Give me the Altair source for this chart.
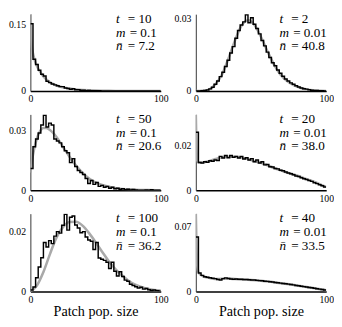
import altair as alt
import pandas as pd

BIN = 2  # histogram bin width (patch population size units)

# ---------------- histogram values (density per bin, 50 bins of width 2) ----------------
p1_hist = [0.152, 0.072, 0.060, 0.047, 0.038, 0.034, 0.022, 0.019, 0.016, 0.014,
           0.012, 0.010, 0.010, 0.007, 0.006, 0.004, 0.005, 0.003, 0.003, 0.002,
           0.002, 0.001, 0.0015, 0.001, 0.0008, 0.0006, 0.0005, 0.0004, 0.0003, 0.0003,
           0.0002, 0.0002, 0.0002, 0.0002, 0.0001, 0.0001, 0.0001, 0.0001, 0.0001, 0.0001,
           0, 0, 0, 0, 0, 0, 0, 0, 0, 0]
p2_hist = [0, 0, 0.0001, 0.0002, 0.0004, 0.0009, 0.0016, 0.0028, 0.0042, 0.006,
           0.0078, 0.0102, 0.0128, 0.0158, 0.0185, 0.022, 0.0252, 0.0275, 0.0288, 0.0318,
           0.0284, 0.0305, 0.0278, 0.026, 0.0238, 0.021, 0.0188, 0.0162, 0.014, 0.0118,
           0.0105, 0.0088, 0.0074, 0.0062, 0.005, 0.0042, 0.0034, 0.0028, 0.0022, 0.0017,
           0.0013, 0.001, 0.0008, 0.0005, 0.0003, 0.0002, 0.0002, 0.0001, 0.0001, 0]
p3_hist = [0.011, 0.022, 0.026, 0.029, 0.033, 0.038, 0.032, 0.034, 0.033, 0.026,
           0.025, 0.024, 0.022, 0.020, 0.019, 0.014, 0.016, 0.012, 0.010, 0.009,
           0.008, 0.006, 0.0035, 0.005, 0.003, 0.004, 0.002, 0.0025, 0.0015, 0.002,
           0.001, 0.0015, 0.0008, 0.001, 0.0005, 0.0008, 0.0003, 0.0005, 0.0002, 0.0004,
           0.0002, 0.0001, 0.0001, 0.0001, 0.0002, 0.0001, 0.0003, 0.0001, 0.0001, 0.0001]
p4_hist = [0.026, 0.0125, 0.0122, 0.0128, 0.0126, 0.0132, 0.013, 0.0136, 0.0134, 0.0152,
           0.0145, 0.0156, 0.0146, 0.0156, 0.0148, 0.0152, 0.0145, 0.0151, 0.0140, 0.0146,
           0.0136, 0.0142, 0.0128, 0.0136, 0.0122, 0.0128, 0.0114, 0.0116, 0.0106, 0.0104,
           0.0098, 0.0096, 0.0090, 0.0088, 0.0082, 0.0078, 0.0074, 0.0070, 0.0064, 0.0062,
           0.0056, 0.0052, 0.0048, 0.0044, 0.0040, 0.0034, 0.0030, 0.0025, 0.0020, 0.0015]
p5_hist = [0.0005, 0.0015, 0.0046, 0.0082, 0.0113, 0.0164, 0.0149, 0.017, 0.016, 0.0185,
           0.020, 0.0195, 0.0221, 0.0258, 0.0205, 0.0248, 0.0252, 0.0222, 0.0212, 0.0196,
           0.0200, 0.0182, 0.0172, 0.0168, 0.0140, 0.0164, 0.0112, 0.0108, 0.0104, 0.0098,
           0.0077, 0.0098, 0.0068, 0.0052, 0.0066, 0.0050, 0.0038, 0.0034, 0.0024, 0.0020,
           0.0016, 0.0012, 0.0014, 0.0008, 0.0010, 0.0006, 0.0004, 0.0005, 0.0003, 0.0002]
p6_hist = [0.059, 0.020, 0.0175, 0.016, 0.0155, 0.015, 0.0145, 0.014, 0.013, 0.0125,
           0.014, 0.0148, 0.0142, 0.0136, 0.0134, 0.0135, 0.0132, 0.0134, 0.013, 0.0131,
           0.0128, 0.0126, 0.0124, 0.0121, 0.0118, 0.0116, 0.0112, 0.011, 0.0105, 0.0104,
           0.0098, 0.0096, 0.0091, 0.0088, 0.0084, 0.008, 0.0076, 0.0072, 0.0066, 0.0062,
           0.0058, 0.0053, 0.0048, 0.0044, 0.0040, 0.0035, 0.0031, 0.0026, 0.0021, 0.0016]

# ---------------- smooth (gray) reference curves ----------------
p1_cx = [0, 0.5, 1, 2, 3, 4, 6, 8, 10, 12, 15, 20, 25, 30, 35, 40, 50, 60, 70, 80, 100]
p1_cy = [0.2, 0.13, 0.105, 0.085, 0.073, 0.064, 0.051, 0.041, 0.033, 0.027, 0.02, 0.0125,
         0.0083, 0.0055, 0.0036, 0.0024, 0.001, 0.0004, 0.0002, 0.0001, 0]
p2_cx = [0, 5, 10, 15, 20, 25, 30, 35, 40, 45, 50, 55, 60, 65, 70, 75, 80, 85, 90, 95, 100]
p2_cy = [0, 0.0001, 0.0006, 0.0028, 0.0068, 0.0135, 0.021, 0.0272, 0.0295, 0.0275, 0.0225,
         0.0165, 0.011, 0.0068, 0.0042, 0.0025, 0.0014, 0.0007, 0.0003, 0.0001, 0]
p3_cx = [0, 2, 4, 6, 8, 10, 12, 15, 20, 25, 30, 35, 40, 45, 50, 55, 60, 70, 80, 90, 100]
p3_cy = [0.009, 0.018, 0.024, 0.028, 0.0305, 0.0315, 0.0315, 0.0305, 0.027, 0.022, 0.017,
         0.0125, 0.0088, 0.006, 0.004, 0.0027, 0.0018, 0.0007, 0.0003, 0.0001, 0]
p4_cx = [0, 0.5, 1, 2, 5, 10, 15, 20, 25, 30, 35, 40, 45, 50, 55, 60, 65, 70, 75, 80, 85, 90, 95, 100]
p4_cy = [0.034, 0.02, 0.0135, 0.0125, 0.0125, 0.013, 0.014, 0.0148, 0.015, 0.015, 0.0147,
         0.014, 0.013, 0.0123, 0.0112, 0.0100, 0.0090, 0.0080, 0.0071, 0.0061, 0.0050,
         0.0040, 0.0028, 0.0015]
p5_cx = [0, 5, 10, 15, 20, 25, 30, 35, 40, 45, 50, 55, 60, 65, 70, 75, 80, 85, 90, 95, 100]
p5_cy = [0, 0.002, 0.0065, 0.0125, 0.018, 0.0215, 0.0232, 0.0233, 0.022, 0.0195, 0.0165,
         0.0133, 0.0102, 0.0076, 0.0055, 0.0037, 0.0024, 0.0015, 0.0009, 0.0005, 0.0003]
p6_cx = [0, 0.5, 1, 2, 3, 5, 10, 15, 20, 25, 30, 40, 50, 60, 70, 80, 90, 100]
p6_cy = [0.085, 0.05, 0.03, 0.021, 0.019, 0.017, 0.0148, 0.0135, 0.0138, 0.014, 0.0135,
         0.0128, 0.0117, 0.0100, 0.0082, 0.006, 0.0038, 0.0015]

# ---------------- annotations and axes ----------------
t_vals = ["10", "2", "50", "20", "100", "40"]
m_vals = ["0.1", "0.01", "0.1", "0.01", "0.1", "0.01"]
nbar_vals = ["7.2", "40.8", "20.6", "38.0", "36.2", "33.5"]
y_tick = [0.15, 0.03, 0.03, 0.02, 0.02, 0.07]
y_tick_label = ["0.15", "0.03", "0.03", "0.02", "0.02", "0.07"]
y_max = [0.1736, 0.032, 0.0384, 0.034, 0.026, 0.0844]
x_ticks = [0, 100]
x_title = "Patch pop. size"

hists = [p1_hist, p2_hist, p3_hist, p4_hist, p5_hist, p6_hist]
curves = [(p1_cx, p1_cy), (p2_cx, p2_cy), (p3_cx, p3_cy),
          (p4_cx, p4_cy), (p5_cx, p5_cy), (p6_cx, p6_cy)]

W = 134
ROW_H = [79, 78, 80]
SANS = "Liberation Sans Narrow"
SERIF = "Liberation Serif"


def panel(i):
    row, col = divmod(i, 2)
    hist = hists[i]
    edges = [k * BIN for k in range(len(hist) + 1)]
    hdf = pd.DataFrame({"x": edges, "y": hist + [hist[-1]]})
    cx, cy = curves[i]
    cdf = pd.DataFrame({"x": cx, "y": cy})

    xs = alt.Scale(domain=[0, 100], nice=False, zero=False)
    ys = alt.Scale(domain=[0, y_max[i]], nice=False)
    xaxis_kw = dict(values=x_ticks, labelFlush=False, ticks=False, grid=False,
                    domainColor="black", domainWidth=1.5, labelFont=SANS,
                    labelFontSize=10, labelColor="black", labelPadding=3)
    if row == 2:
        xaxis_kw.update(titleFont=SERIF, titleFontSize=14.5, titleFontWeight="normal",
                        titleColor="black", titlePadding=1)
    xaxis = alt.Axis(**xaxis_kw)
    lbl_expr = "datum.value == 0 ? '0' : '" + y_tick_label[i] + "'"
    yaxis = alt.Axis(values=[0, y_tick[i]], labelExpr=lbl_expr, ticks=False, grid=False,
                     domainColor="#333333", domainWidth=1, labelFont=SANS,
                     labelFontSize=10, labelColor="black", labelPadding=5)
    xt = x_title if row == 2 else None

    gray = alt.Chart(cdf).mark_line(interpolate="monotone", color="#a9a9a9",
                                    strokeWidth=2.6, clip=True).encode(
        x=alt.X("x:Q", scale=xs, axis=xaxis, title=xt),
        y=alt.Y("y:Q", scale=ys, axis=yaxis, title=None),
    )
    step = alt.Chart(hdf).mark_line(interpolate="step-after", color="black",
                                    strokeWidth=1.5, clip=True).encode(
        x=alt.X("x:Q", scale=xs, axis=xaxis, title=xt),
        y=alt.Y("y:Q", scale=ys, axis=yaxis, title=None),
    )

    tx = 88 if col == 0 else 86
    lines = [("t", t_vals[i], 12), ("m", m_vals[i], 14), ("n\u0304", nbar_vals[i], 12)]
    ys_txt = [5, 19, 33]
    texts = []
    for (var, val, off), yy in zip(lines, ys_txt):
        vdf = pd.DataFrame({"s": [var]})
        texts.append(alt.Chart(vdf).mark_text(font=SERIF, fontSize=13.5, fontStyle="italic",
                                              align="left", baseline="middle",
                                              color="black").encode(
            text="s:N", x=alt.value(tx), y=alt.value(yy)))
        rdf = pd.DataFrame({"s": ["= " + val]})
        texts.append(alt.Chart(rdf).mark_text(font=SERIF, fontSize=13.5,
                                              align="left", baseline="middle",
                                              color="black").encode(
            text="s:N", x=alt.value(tx + off), y=alt.value(yy)))

    return alt.layer(gray, step, *texts).properties(width=W, height=ROW_H[row])


chart = alt.concat(*[panel(i) for i in range(6)], columns=2,
                   spacing={"row": 24, "column": 36}, bounds="flush").properties(
    padding={"left": 0, "top": 0, "right": 0, "bottom": 0}
).configure_view(strokeWidth=0)

chart.save("out.html", embed_options={"renderer": "svg", "actions": False})
